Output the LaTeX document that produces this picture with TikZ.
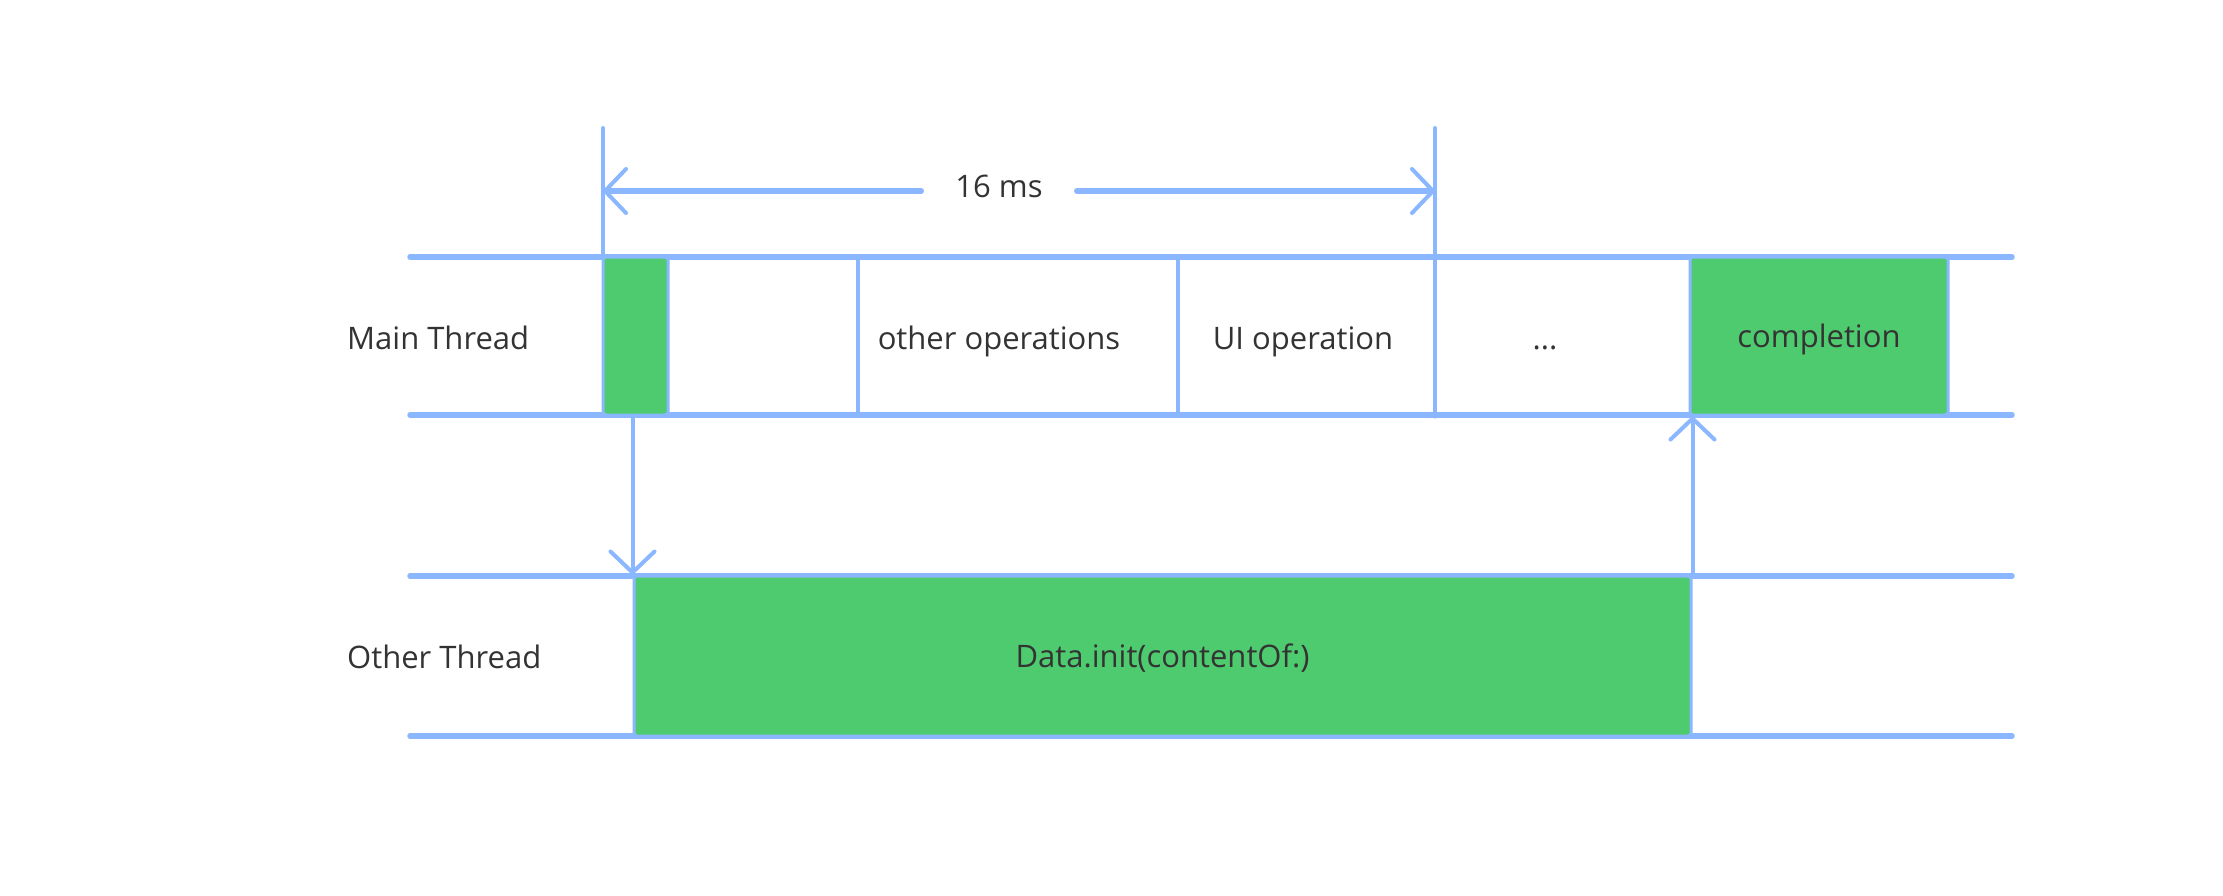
\documentclass[tikz,border=0pt]{standalone}
\usepackage{fontspec}
\setmainfont{Open Sans}
\usetikzlibrary{arrows.meta}
\definecolor{lineblue}{HTML}{8AB7FF}
\definecolor{busygreen}{HTML}{4FCB6F}
\definecolor{textgray}{HTML}{333333}

\begin{document}
\begin{tikzpicture}[x=1pt, y=-1pt, >={Straight Barb[length=21pt, width=44pt, round, line width=4pt 0]},
    thread/.style={draw=lineblue, line width=5.5pt, line cap=round},
    divider/.style={draw=lineblue, line width=4pt, line cap=round},
    busy/.style={fill=busygreen, draw=lineblue, line width=3pt, rounded corners=3pt},
    lbl/.style={text=textgray, inner sep=0pt, text height=23pt, text depth=0pt,
      font=\fontsize{31}{36}\selectfont}]
      \useasboundingbox (0,0) rectangle (2223,895);
      \fill[white] (0,0) rectangle (2223,895);

      % thread lanes
      \foreach \y in {257, 415, 576, 736}
        \draw[thread] (410,\y) -- (2012,\y);

      \node[lbl, anchor=west] (mainlbl) at (347,338) {Main Thread};
      \node[lbl, anchor=west] (otherlbl) at (347,657) {Other Thread};

      % Main thread
      \node[busy, lbl, minimum width=65pt, minimum height=158pt] (kick) at (635.5,336) {};
      \node[busy, lbl, minimum width=258pt, minimum height=158pt] (done) at (1819,336) {completion};
      \node[lbl] (otherops) at (999,338) {other operations};
      \node[lbl] (uiop) at (1303,338) {UI operation};
      \node[lbl] (more) at (1545,338) {...};
      \foreach \x in {858, 1178}
        \draw[divider] (\x,257) -- (\x,415);

      % Other thread
      \node[busy, lbl, minimum width=1057pt, minimum height=160pt] (load) at (1162.5,656) {Data.init(contentOf:)};

      % 16 ms frame
      \coordinate (start) at (603,128);
      \coordinate (frame) at (1435,128);
      \draw[divider] (start) -- (start |- kick.north);
      \draw[divider] (frame) -- (frame |- kick.south);
      \node[lbl, inner xsep=34pt] (ms) at (999,186) {16 ms};
      \draw[thread, ->] ([yshift=-5pt]ms.west) -- ([yshift=-5pt]ms.west -| start);
      \draw[thread, ->] ([yshift=-5pt]ms.east) -- ([yshift=-5pt]ms.east -| frame);

      % hand over and back
      \draw[divider, ->] (kick.south -| load.west) -- (load.north west);
      \draw[divider, ->] (load.north east) -- (load.north east |- done.south);
    \end{tikzpicture}
\end{document}
